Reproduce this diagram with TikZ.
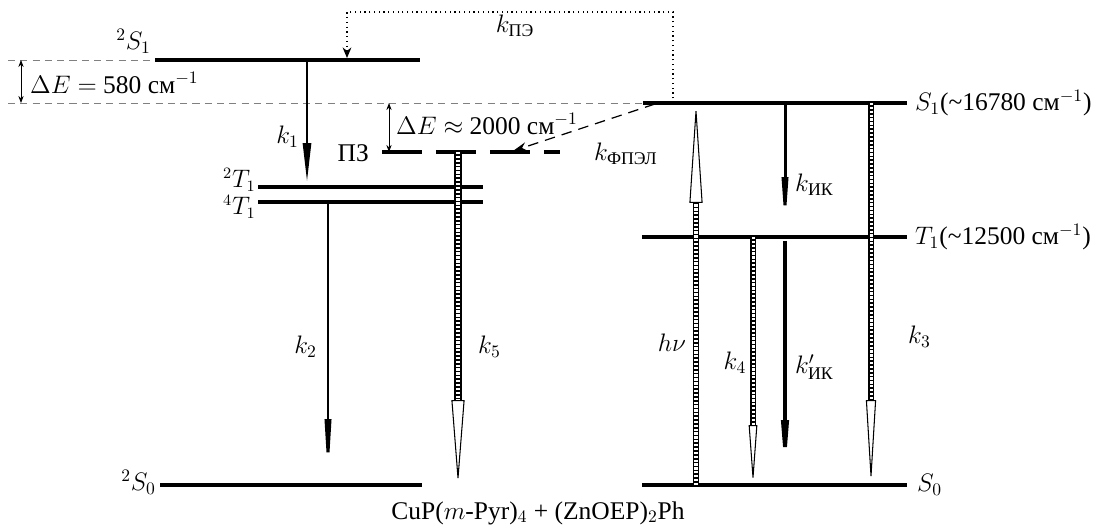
\documentclass[tikz,border=0pt]{standalone}
\usepackage{fontspec}
\setmainfont{Liberation Serif}
\usepackage{amsmath}
\usetikzlibrary{arrows.meta}

\begin{document}
\begin{tikzpicture}[
    x=0.02cm, y=-0.02cm,
    every node/.style={font=\fontsize{14.5}{17}\selectfont, inner sep=1pt},
    lvl/.style={line width=2.2pt},
    guide/.style={gray, dashed, line width=0.5pt, dash pattern=on 4pt off 3pt},
    gap/.style={{Stealth[length=4pt, width=3pt]}-{Stealth[length=4pt, width=3pt]}, line width=0.5pt},
    kblack/.style 2 args={line width=1.7pt, -{Triangle[length=#1, width=#2]}},
    ladder/.style 2 args={line width=#2, postaction={draw, white, line width=#2-1.3pt, dash pattern=on 1.3pt off 0.9pt, -, shorten >=#1}},
    ltip/.style 2 args={-{Triangle[open, length=#1, width=#2, line width=0.6pt 0]}},
    tlab/.style={anchor=east, inner sep=0pt, font=\fontsize{13.5}{15}\selectfont}
]
\useasboundingbox (0,0) rectangle (1098,526);

% Hilfslinien und Energieabstaende
\draw[guide] (8,60) -- (155,60);
\draw[guide] (8,103) -- (643,103);
\draw[gap] (21,60) -- (21,103);
\node[anchor=west] (de1) at (28,83) {$\Delta E =$ 580 см$^{-1}$};
\draw[gap] (389,103) -- (389,152);
\node[anchor=west] (de2) at (394,124) {$\Delta E \approx$ 2000 см$^{-1}$};

% Niveaus links
\draw[lvl] (155,60) coordinate (s21a) -- (420,60) coordinate (s21b);
\node[anchor=east] (ls21) at (153,41) {$^2S_1$};
\draw[lvl, dash pattern=on 22.7pt off 8pt] (382,152) coordinate (pza) -- (560,152) coordinate (pzb);
\node[anchor=east] (lpz) at (371,153) {ПЗ};
\draw[lvl] (258,187) coordinate (t21a) -- (483,187) coordinate (t21b);
\node[tlab] (lt21) at (256,180) {$^2T_1$};
\draw[lvl] (258,202) coordinate (t41a) -- (483,202) coordinate (t41b);
\node[tlab] (lt41) at (256,207) {$^4T_1$};
\draw[lvl] (160,485) coordinate (s20a) -- (422,485) coordinate (s20b);
\node[anchor=east] (ls20) at (158,482) {$^2S_0$};

% Niveaus rechts
\draw[lvl] (643,103) coordinate (s1a) -- (907,103) coordinate (s1b);
\node[anchor=west] (ls1) at (913,103) {$S_1$(\textasciitilde16780 см$^{-1}$)};
\draw[lvl] (642,237) coordinate (t1a) -- (907,237) coordinate (t1b);
\node[anchor=west] (lt1) at (913,237) {$T_1$(\textasciitilde12500 см$^{-1}$)};
\draw[lvl] (642,485) coordinate (s0a) -- (907,485) coordinate (s0b);
\node[anchor=west] (ls0) at (915,485) {$S_0$};

% Uebergaenge
\coordinate (k1a) at (307,60);   \coordinate (k1b) at (307,183);
\coordinate (k2a) at (328,202);  \coordinate (k2b) at (328,484);
\coordinate (k5a) at (458,152);  \coordinate (k5b) at (458,485);
\coordinate (hva) at (696,485);  \coordinate (hvb) at (696,103);
\coordinate (kika) at (785,103); \coordinate (kikb) at (785,232);
\coordinate (k4a) at (753,237);  \coordinate (k4b) at (753,485);
\coordinate (kiia) at (785,241); \coordinate (kiib) at (785,480);
\coordinate (k3a) at (871,103);  \coordinate (k3b) at (871,485);

\draw[kblack={0.8cm}{4.5pt}] (k1a) -- (k1b);
\node[anchor=east] (lk1) at (301,137) {$k_1$};
\draw[kblack={1.3cm}{3.5pt}] (k2a) -- (k2b);
\node[anchor=east] (lk2) at (319,347) {$k_2$};
\draw[ladder={1.7cm}{4pt}, ltip={1.7cm}{0.26cm}] (k5a) -- (k5b);
\node[anchor=west] (lk5) at (476,347) {$k_5$};
\draw[ladder={2cm}{3.4pt}, ltip={2cm}{0.26cm}] (hva) -- (hvb);
\node (lhv) at (672,343) {$h\nu$};
\draw[kblack={1.1cm}{3.5pt}] (kika) -- (kikb);
\node[anchor=west] (lkik) at (793,185) {$k_{\text{ИК}}$};
\draw[ladder={1.2cm}{3pt}, ltip={1.2cm}{0.17cm}] (k4a) -- (k4b);
\node (lk4) at (735,363) {$k_4$};
\draw[kblack={1.2cm}{4pt}, line width=2.2pt] (kiia) -- (kiib);
\node[anchor=west] (lkii) at (793,367) {$k'_{\text{ИК}}$};
\draw[ladder={1.7cm}{3pt}, ltip={1.7cm}{0.2cm}] (k3a) -- (k3b);
\node[anchor=west] (lk3) at (906,337) {$k_3$};

% Perenos energii
\draw[dotted, line width=0.7pt, -{Stealth[length=6pt, width=5pt]}] (673,103) coordinate (pea) |- (347,12) -- (347,58) coordinate (peb);
\node (lpe) at (515,26) {$k_{\text{ПЭ}}$};
\draw[dashed, line width=0.7pt, dash pattern=on 6pt off 4pt, -{Stealth[length=8pt, width=5pt]}] (655,104) coordinate (fpa) -- (513,151) coordinate (fpb);
\node[anchor=west] (lfp) at (592,154) {$k_{\text{ФПЭЛ}}$};

\node (cap) at (538,513) {CuP($m$-Pyr)$_4$ + (ZnOEP)$_2$Ph};
\end{tikzpicture}
\end{document}
